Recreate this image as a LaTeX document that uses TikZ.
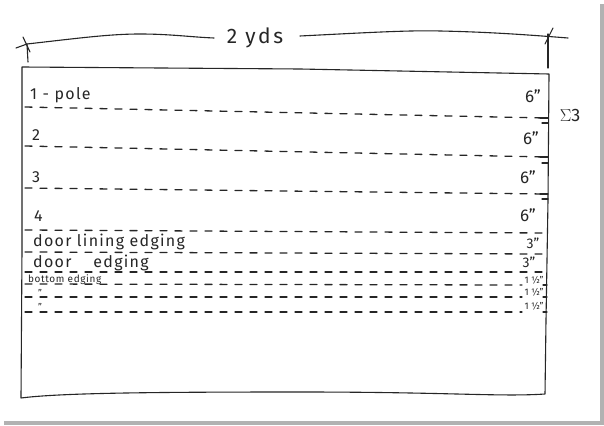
\documentclass[tikz,border=0pt]{standalone}
\usepackage{fontspec}
\setmainfont{Fira Sans}
\begin{document}
\begin{tikzpicture}[x=1pt,y=-1pt,
  ink/.style={line width=1.1pt, line cap=round, line join=round, black!85},
  cut/.style={ink, line width=1.3pt, dash pattern=on 7pt off 8pt},
  lbl/.style={font=\fontsize{16}{16}\selectfont\addfontfeature{LetterSpace=8}, inner sep=0pt, anchor=west, text=black!85},
  sz/.style={font=\fontsize{17}{17}\selectfont, inner sep=0pt, text=black!85},
  small/.style={font=\fontsize{9.5}{9.5}\selectfont, inner sep=0pt, text=black!85}]
\useasboundingbox (0,0) rectangle (604,425);
% paper and shadow
\fill[gray!60] (4,4) rectangle (604,425);
\fill[white] (0,0) rectangle (600,421);
% dimension line
\draw[ink] (16,48) -- (27,44) .. controls (80,38) and (110,34) .. (140,34) .. controls (170,34) and (190,37) .. (214,38);
\node[font=\fontsize{21}{21}\selectfont\addfontfeature{LetterSpace=12}, inner sep=0pt, text=black!85] (yds) at (255,38) {2 yds};
\draw[ink] (300,36) .. controls (360,33) and (410,30) .. (440,31) .. controls (490,32) and (530,35) .. (568,38);
\draw[ink] (23,37) -- (30,52);
\draw[ink] (27,44) -- (28,62);
\draw[ink] (553,28) -- (545,44);
\draw[ink] (548,34) -- (548,68);
% outer rectangle
\draw[ink] (22,67) -- (300,69) -- (549,74) -- (548,200) -- (546,320) -- (545,394)
  .. controls (500,397) and (450,392) .. (300,392) .. controls (150,392) and (60,393) .. (21,398) -- (22,250) -- cycle;
% dashed cut lines
\draw[cut] (25,107) -- (545,118);
\draw[cut] (25,146) -- (545,157);
\draw[cut] (25,188) -- (545,194);
\draw[cut] (25,230) -- (545,233);
\draw[cut] (25,252) -- (545,254);
\draw[cut] (25,272) -- (545,272);
\draw[cut] (25,284) -- (522,285);
\draw[cut] (25,297) -- (522,297);
\draw[cut] (25,312) -- (522,312);
% right ticks
\draw[ink] (540,118) -- (548,118);
\draw[ink] (542,123) -- (548,123);
\draw[ink] (540,157) -- (548,157);
\draw[ink] (542,163) -- (548,163);
\draw[ink] (540,194) -- (548,194);
\draw[ink] (542,199) -- (548,199);
\draw[ink] (543,285) -- (547,285);
\draw[ink] (543,297) -- (547,297);
\draw[ink] (543,312) -- (547,312);
\node[font=\fontsize{18}{18}\selectfont, inner sep=0pt, text=black!85] (sigma) at (570,115) {$\Sigma$3};
% labels left
\node[lbl] (p1) at (30,95) {1 - pole};
\node[lbl] (p2) at (32,135) {2};
\node[lbl] (p3) at (32,177) {3};
\node[lbl] (p4) at (34,216) {4};
\node[lbl] (dl) at (33,242) {door lining edging};
\node[lbl] (de) at (33,263) {door\hspace{22pt}edging};
\node[small, anchor=west, font=\fontsize{10}{10}\selectfont\addfontfeature{LetterSpace=6}] (be) at (28,280) {bottom edging};
\node[small] (d1) at (40,293) {''};
\node[small] (d2) at (40,307) {''};
% sizes right
\node[sz] (s1) at (533,96) {6''};
\node[sz] (s2) at (531,138) {6''};
\node[sz] (s3) at (528,177) {6''};
\node[sz] (s4) at (528,215) {6''};
\node[sz, font=\fontsize{14}{14}\selectfont] (s5) at (533,243) {3''};
\node[sz, font=\fontsize{14}{14}\selectfont] (s6) at (529,262) {3''};
\node[small] (s7) at (534,280) {1 ½''};
\node[small] (s8) at (534,292) {1 ½''};
\node[small] (s9) at (534,306) {1 ½''};
\end{tikzpicture}
\end{document}
